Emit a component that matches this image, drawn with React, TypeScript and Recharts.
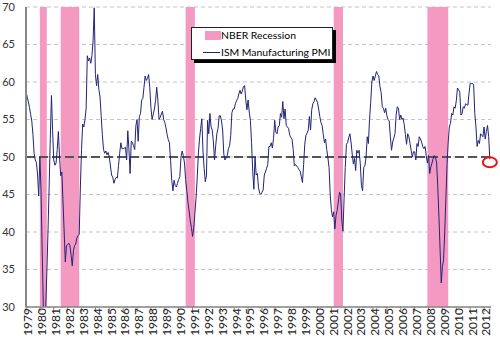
import React from 'react';
import {
  ComposedChart, Line, XAxis, YAxis, CartesianGrid, ReferenceArea,
  ReferenceLine, ReferenceDot, Legend,
} from 'recharts';

const FONT = 'Lato, "Liberation Sans", Arial, sans-serif';

// ISM Manufacturing PMI, monthly, Jan 1979 .. Jun 2012
const pmi1979to1983 = [
  58.7, 58.0, 57.4, 56.6, 55.7, 54.8, 53.0, 50.5, 49.6, 49.3, 47.6, 44.8,
  50.0, 45.5, 37.5, 30.0, 29.4, 29.8, 34.5, 40.0, 46.0, 52.5, 58.2, 53.5,
  49.6, 48.9, 49.2, 51.0, 53.4, 50.0, 47.5, 48.0, 44.0, 40.0, 36.0, 38.2,
  38.3, 38.5, 38.2, 36.9, 35.5, 37.5, 38.2, 38.4, 39.2, 39.5, 39.7, 46.0,
  51.0, 54.4, 54.0, 55.0, 56.5, 63.5, 62.8, 63.2, 62.5, 63.5, 65.5, 69.9,
];
const pmi1984to1988 = [
  61.0, 59.5, 61.0, 59.0, 58.0, 55.5, 53.0, 51.0, 50.5, 50.8, 50.3, 50.6,
  50.0, 48.8, 47.6, 47.3, 46.5, 47.0, 47.3, 47.2, 48.9, 50.5, 51.9, 51.1,
  51.1, 51.2, 51.3, 49.6, 53.5, 51.0, 47.8, 52.1, 51.9, 51.5, 51.0, 54.2,
  55.0, 52.1, 55.4, 55.8, 57.6, 57.8, 59.3, 60.8, 60.2, 60.5, 61.0, 59.3,
  56.6, 55.0, 55.7, 56.4, 57.5, 59.3, 57.6, 55.0, 55.3, 55.7, 56.1, 55.0,
];
const pmi1989to1993 = [
  54.6, 53.9, 53.0, 52.3, 51.9, 49.5, 46.9, 45.5, 46.9, 46.2, 46.0, 46.5,
  47.0, 47.4, 50.0, 50.8, 50.2, 49.2, 47.0, 45.5, 44.0, 42.8, 41.5, 40.6,
  39.4, 40.5, 42.5, 44.5, 47.2, 50.4, 52.4, 53.8, 55.1, 50.8, 48.5, 46.7,
  47.5, 54.9, 53.1, 55.8, 54.0, 53.6, 52.0, 49.6, 51.5, 53.1, 53.8, 55.5,
  55.5, 54.8, 53.6, 50.4, 49.6, 49.9, 50.2, 51.1, 51.5, 52.9, 55.9, 56.4,
];
const pmi1994to1998 = [
  56.4, 57.1, 57.5, 57.8, 58.4, 58.9, 58.4, 58.8, 59.4, 59.5, 57.6, 56.3,
  57.6, 56.0, 54.9, 51.9, 48.1, 45.7, 50.0, 47.6, 47.8, 45.9, 45.2, 45.0,
  45.3, 45.6, 47.6, 48.0, 48.5, 49.0, 51.4, 51.4, 51.9, 51.2, 52.5, 54.9,
  53.3, 53.1, 54.0, 54.2, 55.8, 55.3, 57.4, 55.1, 56.4, 54.2, 54.0, 53.8,
  52.9, 52.6, 52.4, 51.0, 48.8, 49.0, 48.8, 48.6, 48.3, 48.1, 47.4, 46.6,
];
const pmi1999to2003 = [
  49.0, 51.7, 52.9, 53.2, 53.6, 55.4, 53.6, 56.3, 57.1, 57.4, 57.9, 57.6,
  57.3, 56.4, 55.4, 54.6, 54.2, 53.0, 51.9, 52.4, 51.0, 49.9, 48.6, 45.0,
  43.0, 42.0, 42.7, 40.4, 42.2, 42.9, 44.0, 45.3, 45.1, 41.6, 40.1, 44.5,
  48.6, 51.7, 51.9, 52.6, 53.1, 52.0, 50.4, 49.1, 49.8, 48.2, 50.9, 50.5,
  50.9, 49.1, 46.2, 45.5, 48.6, 48.9, 50.0, 52.7, 51.8, 55.0, 57.3, 60.0,
];
const pmi2004to2008 = [
  60.8, 60.2, 60.8, 61.4, 61.0, 60.8, 59.4, 58.6, 56.7, 56.5, 55.9, 56.5,
  55.5, 55.0, 54.8, 52.7, 50.9, 52.0, 52.5, 53.1, 55.6, 56.7, 56.5, 55.0,
  55.6, 55.0, 55.2, 54.3, 53.0, 51.7, 53.1, 52.7, 51.8, 50.9, 50.0, 50.7,
  50.7, 49.6, 51.8, 51.4, 52.7, 52.4, 52.0, 51.4, 51.1, 51.4, 50.2, 49.2,
  50.2, 47.8, 48.7, 49.2, 49.8, 50.2, 50.0, 49.2, 46.0, 42.0, 37.6, 33.2,
];
const pmi2009to2012 = [
  35.4, 36.3, 40.0, 44.5, 49.0, 52.0, 54.0, 54.5, 55.8, 55.6, 56.7, 56.5,
  57.5, 59.2, 59.0, 58.6, 55.6, 55.8, 56.7, 56.5, 57.1, 57.0, 56.9, 58.5,
  59.8, 59.8, 59.8, 59.6, 55.8, 54.0, 51.4, 52.2, 51.8, 53.1, 52.9, 52.7,
  54.0, 52.4, 53.4, 54.2, 52.7, 49.7,
];

const firstYear = 1979;
const yearTicks = [
  1979, 1980, 1981, 1982, 1983, 1984, 1985, 1986, 1987, 1988, 1989, 1990,
  1991, 1992, 1993, 1994, 1995, 1996, 1997, 1998, 1999, 2000, 2001, 2002,
  2003, 2004, 2005, 2006, 2007, 2008, 2009, 2010, 2011, 2012,
];
const pmiTicks = [30, 35, 40, 45, 50, 55, 60, 65, 70];

// NBER recessions: [start year, start month, end year, end month]
const recessions = [
  [1980, 1, 1980, 7],
  [1981, 7, 1982, 11],
  [1990, 7, 1991, 3],
  [2001, 3, 2001, 11],
  [2007, 12, 2009, 6],
];

const pmiAll = [
  ...pmi1979to1983, ...pmi1984to1988, ...pmi1989to1993, ...pmi1994to1998,
  ...pmi1999to2003, ...pmi2004to2008, ...pmi2009to2012,
];
const data = pmiAll.map((v, i) => ({ t: firstYear + i / 12, pmi: v }));
const last = data[data.length - 1];

const PINK = '#f49ac2';
const NAVY = '#23237a';

const YearTick = (props: any) => {
  const { x, y, payload } = props;
  return (
    <g transform={`translate(${x + 2},${y - 6})`}>
      <text transform="rotate(-90)" textAnchor="end" dy="0.36em" fontSize={12} fill="#222" fontFamily={FONT}>
        {payload.value}
      </text>
    </g>
  );
};

const LegendBox = () => (
  <div style={{ position: 'relative', width: 145, height: 36, fontFamily: FONT, fontSize: 10.4, color: '#000' }}>
    <div style={{ position: 'absolute', left: 3, top: 3, width: 142, height: 33, background: '#000' }} />
    <div style={{ position: 'absolute', left: 0, top: 0, width: 140, height: 31, background: '#fff', border: '1px solid #222' }}>
      <div style={{ position: 'absolute', left: 13, top: 3, width: 16, height: 9, background: PINK }} />
      <div style={{ position: 'absolute', left: 29, top: 0, lineHeight: '15px', whiteSpace: 'nowrap' }}>NBER Recession</div>
      <div style={{ position: 'absolute', left: 11, top: 24, width: 17, height: 1, background: NAVY }} />
      <div style={{ position: 'absolute', left: 29, top: 17, lineHeight: '15px', whiteSpace: 'nowrap' }}>ISM Manufacturing PMI</div>
    </div>
  </div>
);

export default function App() {
  return (
    <div style={{ position: 'absolute', left: 0, top: 0, width: 500, height: 339, background: '#fff' }}>
      <ComposedChart width={500} height={339} data={data} margin={{ top: 7, right: 9, bottom: 0, left: 0 }}>
        <CartesianGrid vertical={false} stroke="#c4c4c4" strokeDasharray="4 3" />
        {recessions.map(([sy, sm, ey, em]) => (
          <ReferenceArea
            key={`${sy}-${sm}`}
            x1={sy + (sm - 1) / 12}
            x2={ey + (em - 1) / 12}
            y1={30}
            y2={70}
            fill={PINK}
            fillOpacity={1}
            stroke="none"
          />
        ))}
        <XAxis
          dataKey="t"
          type="number"
          domain={[1979, 2012.5]}
          ticks={yearTicks}
          interval={0}
          allowDataOverflow
          height={32}
          tickSize={5}
          tick={<YearTick />}
          tickLine={{ stroke: '#868686' }}
          axisLine={{ stroke: '#868686', strokeWidth: 1.5 }}
        />
        <YAxis
          domain={[30, 70]}
          ticks={pmiTicks}
          interval={0}
          allowDataOverflow
          width={26}
          tickLine={false}
          tickSize={6}
          tickMargin={5}
          axisLine={{ stroke: '#868686', strokeWidth: 2 }}
          tick={{ fontSize: 11, fill: '#333', fontFamily: FONT }}
        />
        <ReferenceLine y={50} stroke="#555" strokeWidth={2} strokeDasharray="9 4" />
        <Line
          dataKey="pmi"
          type="linear"
          stroke={NAVY}
          strokeWidth={1}
          dot={false}
          activeDot={false}
          isAnimationActive={false}
        />
        <ReferenceDot
          x={last.t}
          y={last.pmi}
          r={6}
          ifOverflow="visible"
          shape={(p: any) => (
            <ellipse cx={p.cx} cy={p.cy + 3} rx={7} ry={5} fill="none" stroke="#ee1111" strokeWidth={2} />
          )}
        />
        <Legend
          layout="horizontal"
          verticalAlign="middle"
          align="center"
          width={146}
          height={37}
          wrapperStyle={{ left: 191, top: 27, width: 146, height: 37 }}
          content={() => <LegendBox />}
        />
      </ComposedChart>
    </div>
  );
}
